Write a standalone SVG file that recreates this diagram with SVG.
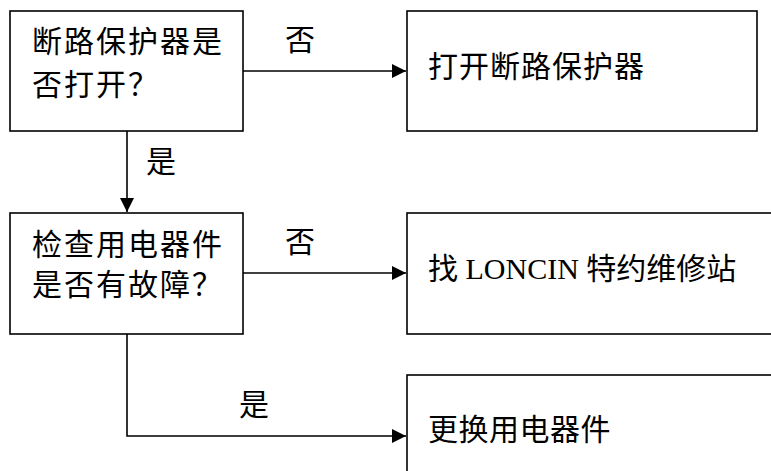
<svg xmlns="http://www.w3.org/2000/svg" width="771" height="471" viewBox="0 0 771 471">
<style>
.box{fill:#fff;stroke:#000;stroke-width:1.6}
.t{font-family:"Liberation Serif","Noto Sans CJK SC",serif;font-size:30px;fill:#000}
.c{fill:none;stroke:#000;stroke-width:1.6}
</style>
<defs>
<marker id="ah" markerWidth="14" markerHeight="14" refX="14" refY="7" orient="auto" markerUnits="userSpaceOnUse">
<path d="M0,0 L14,7 L0,14 Z" fill="#000"/>
</marker>
</defs>
<rect width="771" height="471" fill="#fff"/>
<g id="connectors">
<path class="c" d="M243,71 H406" marker-end="url(#ah)"/>
<path class="c" d="M127,131 V212" marker-end="url(#ah)"/>
<path class="c" d="M243,273 H406" marker-end="url(#ah)"/>
<path class="c" d="M127,334 V436 H406" marker-end="url(#ah)"/>
<text class="t" x="285" y="50">否</text>
<text class="t" x="146" y="172">是</text>
<text class="t" x="285" y="252">否</text>
<text class="t" x="239" y="415">是</text>
</g>
<g id="n1">
<rect class="box" x="10" y="11" width="233" height="120"/>
<text class="t" x="32" y="52" letter-spacing="2">断路保护器是</text>
<text class="t" x="32" y="95" letter-spacing="2">否打开？</text>
</g>
<g id="n2">
<rect class="box" x="407" y="11" width="350" height="120"/>
<text class="t" x="428" y="77" letter-spacing="1">打开断路保护器</text>
</g>
<g id="n3">
<rect class="box" x="10" y="213" width="233" height="121"/>
<text class="t" x="32" y="255" letter-spacing="2">检查用电器件</text>
<text class="t" x="32" y="295" letter-spacing="2">是否有故障？</text>
</g>
<g id="n4">
<rect class="box" x="407" y="213" width="380" height="121"/>
<text class="t" x="428" y="279">找 LONCIN 特约维修站</text>
</g>
<g id="n5">
<rect class="box" x="407" y="375" width="380" height="120"/>
<text class="t" x="428" y="440" letter-spacing="0.5">更换用电器件</text>
</g>
</svg>
